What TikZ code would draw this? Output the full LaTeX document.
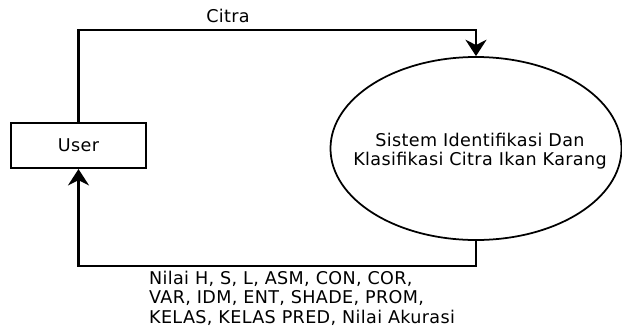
\documentclass[tikz,border=0pt]{standalone}
\usepackage{fontspec}
\setmainfont[LetterSpace=2]{DejaVu Sans}
\usetikzlibrary{shapes.geometric,arrows.meta}
\begin{document}
\begin{tikzpicture}[x=0.03cm, y=-0.03cm,
    font=\fontsize{15}{16.6}\selectfont,
    entitas/.style={draw, line width=1.8pt, minimum width=4.05cm, minimum height=1.35cm, inner sep=0pt},
    proses/.style={draw, ellipse, line width=1.5pt, minimum width=8.73cm, minimum height=5.49cm, inner sep=0pt},
    alir/.style={line width=1.9pt, -{Stealth[length=14pt, width=18pt]}}]
    \useasboundingbox (0,0) rectangle (622,329);
    % entitas luar dan proses
    \node[entitas] (user) at (78.5,145.5) {User};
    \node[proses] (sistem) at (476,148.5) {};
    \node[align=center] (sistemteks) at (480,151) {Sistem Identifikasi Dan\\Klasifikasi Citra Ikan Karang};
    % aliran data masuk
    \draw[alir] (user.north) -- ++(0,-92) -| (sistem.north);
    \node (citra) at (228,16) {Citra};
    % aliran data keluar
    \draw[alir] (sistem.south) -- ++(0,25) -| (user.south);
    \node[anchor=west, align=left] (keluaran) at (145,298)
        {Nilai H, S, L, ASM, CON, COR,\\VAR, IDM, ENT, SHADE, PROM,\\KELAS, KELAS PRED, Nilai Akurasi};
\end{tikzpicture}
\end{document}
